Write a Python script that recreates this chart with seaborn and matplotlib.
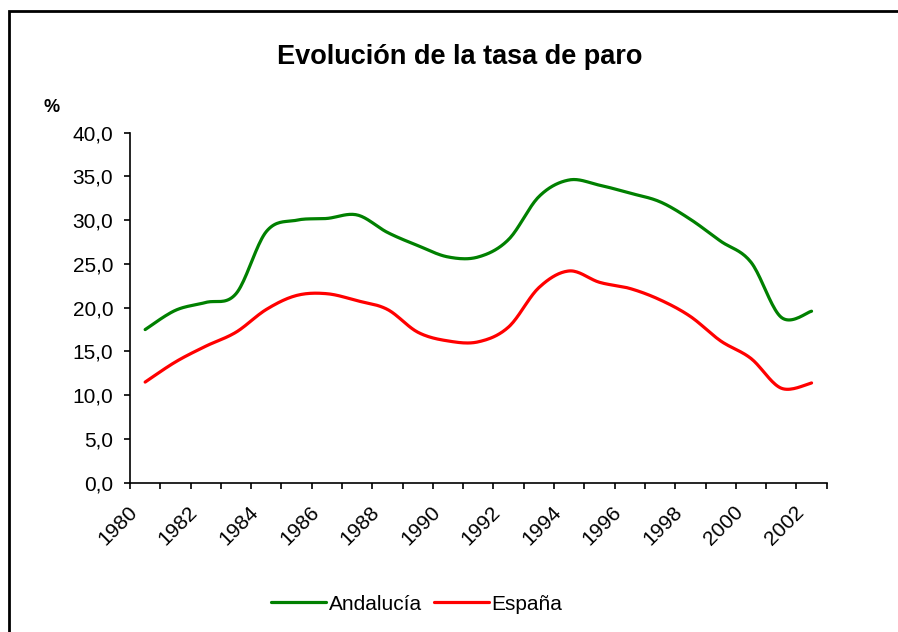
import numpy as np
import pandas as pd
import matplotlib
matplotlib.use("Agg")
import matplotlib.pyplot as plt
import matplotlib.patches as mpatches
from matplotlib.lines import Line2D
from matplotlib.transforms import ScaledTranslation
from matplotlib.ticker import FuncFormatter
import seaborn as sns

# Datos (tasa de paro, %)
years = list(range(1980, 2003))
andalucia = [17.5, 19.7, 20.6, 21.6, 28.7, 30.0, 30.2, 30.6, 28.6, 27.1, 25.8, 25.8,
             27.8, 32.7, 34.6, 34.0, 33.1, 32.1, 30.1, 27.6, 25.2, 18.9, 19.6]
espana = [11.5, 13.8, 15.6, 17.2, 19.8, 21.4, 21.6, 20.8, 19.8, 17.2, 16.2, 16.1,
          17.8, 22.3, 24.2, 22.9, 22.2, 20.9, 19.0, 16.2, 14.2, 10.8, 11.4]
series_names = ["Andalucía", "España"]
colors = ["#008000", "#ff0000"]
label_years = list(range(1980, 2003, 2))
y_ticks = [0, 5, 10, 15, 20, 25, 30, 35, 40]


def excel_smooth(x, y, steps=20):
    # linea suavizada tipo Excel (Bezier con control = vecinos / 6)
    x = np.asarray(x, float)
    y = np.asarray(y, float)
    xs, ys = [], []
    n = len(x)
    for i in range(n - 1):
        p0 = (x[max(i - 1, 0)], y[max(i - 1, 0)])
        p1 = (x[i], y[i])
        p2 = (x[i + 1], y[i + 1])
        p3 = (x[min(i + 2, n - 1)], y[min(i + 2, n - 1)])
        c1 = (p1[0] + (p2[0] - p0[0]) / 6, p1[1] + (p2[1] - p0[1]) / 6)
        c2 = (p2[0] - (p3[0] - p1[0]) / 6, p2[1] - (p3[1] - p1[1]) / 6)
        t = np.linspace(0, 1, steps, endpoint=(i == n - 2))
        a, b, c, d = (1 - t) ** 3, 3 * (1 - t) ** 2 * t, 3 * (1 - t) * t ** 2, t ** 3
        xs.append(a * p1[0] + b * c1[0] + c * c2[0] + d * p2[0])
        ys.append(a * p1[1] + b * c1[1] + c * c2[1] + d * p2[1])
    return np.concatenate(xs), np.concatenate(ys)


frames = []
for name, vals in zip(series_names, [andalucia, espana]):
    sx, sy = excel_smooth(years, vals)
    frames.append(pd.DataFrame({"year": sx, "tasa": sy, "serie": name}))
df = pd.concat(frames, ignore_index=True)

sns.set_theme(style="white")
plt.rcParams["font.family"] = ["Liberation Sans", "DejaVu Sans"]
plt.rcParams["text.color"] = "black"
plt.rcParams["xtick.color"] = "black"
plt.rcParams["ytick.color"] = "black"

W, H = 898, 632
fig = plt.figure(figsize=(W / 100, H / 100), dpi=100)
fig.patch.set_facecolor("white")
ax = fig.add_axes([130 / W, 1 - 482.7 / H, (826.7 - 130) / W, (482.7 - 132.7) / H])

sns.lineplot(data=df, x="year", y="tasa", hue="serie", palette=colors,
             linewidth=2.3, sort=False, estimator=None, legend=False, ax=ax)

ax.set_xlim(1979.5, 2002.5)
ax.set_ylim(0, 40)
ax.set_xlabel("")
ax.set_ylabel("")
for s in ["top", "right"]:
    ax.spines[s].set_visible(False)
for s in ["left", "bottom"]:
    ax.spines[s].set_color("black")
    ax.spines[s].set_linewidth(1.2)

ax.set_yticks(y_ticks)
ax.yaxis.set_major_formatter(FuncFormatter(lambda v, p: f"{v:.1f}".replace(".", ",")))
ax.tick_params(axis="y", direction="out", length=4, width=1.2, color="black",
               labelsize=15, labelcolor="black", pad=8, left=True)

ax.set_xticks(label_years)
ax.set_xticklabels([str(y) for y in label_years])
ax.set_xticks(np.arange(1979.5, 2003, 1.0), minor=True)
ax.tick_params(axis="x", which="major", length=0, labelsize=15, labelcolor="black",
               pad=19, bottom=True)
ax.tick_params(axis="x", which="minor", direction="out", length=4, width=1.2,
               color="black", bottom=True)
shift = ScaledTranslation(-11 / 100, 0, fig.dpi_scale_trans)
for lab in ax.get_xticklabels():
    lab.set_rotation(45)
    lab.set_ha("right")
    lab.set_va("center")
    lab.set_rotation_mode("anchor")
    lab.set_transform(lab.get_transform() + shift)

fig.text(460 / W, 1 - 57 / H, "Evolución de la tasa de paro", ha="center", va="center",
         fontsize=19.5, fontweight="bold", color="black")
fig.text(44 / W, 1 - 107 / H, "%", ha="left", va="center", fontsize=13, fontweight="bold",
         color="black")

handles = [Line2D([0], [0], color=c, lw=2.3) for c in colors]
fig.legend(handles, series_names, loc="center", bbox_to_anchor=(417 / W, 1 - 604 / H),
           ncol=2, frameon=False, fontsize=15, handlelength=2.6, handletextpad=0.15,
           columnspacing=0.6, labelcolor="black")

# marco del grafico
fig.add_artist(mpatches.Rectangle((9 / W, -0.1), 1.2, (H - 11) / H + 0.1, fill=False,
                                  edgecolor="black", linewidth=2, transform=fig.transFigure,
                                  clip_on=False))

fig.savefig("out.png", dpi=100)
